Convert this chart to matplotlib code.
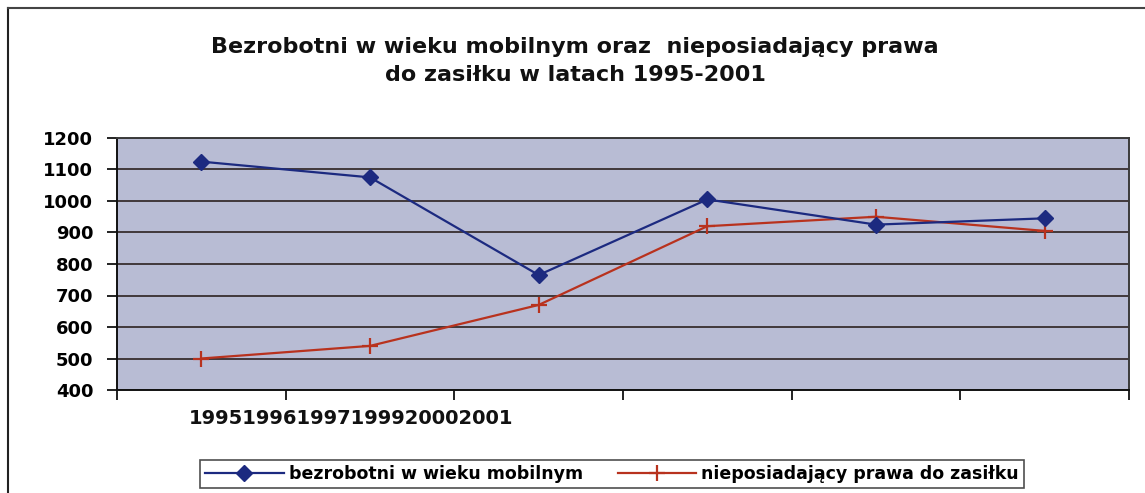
import matplotlib
matplotlib.use("Agg")
import matplotlib.pyplot as plt
from matplotlib.lines import Line2D

# ---- data ----
years = ["1995", "1996", "1997", "1999", "2000", "2001"]
mobile_unemployed = [1125, 1075, 765, 1005, 925, 945]
no_benefit_right = [500, 540, 670, 920, 950, 905]
series_names = ["bezrobotni w wieku mobilnym", "nieposiadający prawa do zasiłku"]
title = "Bezrobotni w wieku mobilnym oraz  nieposiadający prawa\ndo zasiłku w latach 1995-2001"
y_ticks = [400, 500, 600, 700, 800, 900, 1000, 1100, 1200]

W, H = 1145, 493
fig = plt.figure(figsize=(W / 100, H / 100), dpi=100)
fig.patch.set_facecolor("white")

FONT = "DejaVu Sans"

ax = fig.add_axes([117 / W, 1 - 390 / H, (1129 - 117) / W, (390 - 138) / H])
ax.set_facecolor("#b8bcd4")

x = list(range(len(years)))
ax.plot(x, mobile_unemployed, color="#1c2a80", lw=1.6, marker="D",
        markersize=8, markerfacecolor="#1c2a80", markeredgecolor="#1c2a80",
        label=series_names[0], zorder=4)
ax.plot(x, no_benefit_right, color="#b8321e", lw=1.6, marker="+",
        markersize=11, markeredgewidth=1.6, label=series_names[1], zorder=3)

ax.set_ylim(400, 1200)
ax.set_yticks(y_ticks)
ax.set_yticklabels([str(v) for v in y_ticks], fontfamily=FONT,
                   fontweight="bold", fontsize=13)
ax.yaxis.grid(True, color="#40383a", lw=1.4)
ax.set_axisbelow(True)

ax.set_xlim(-0.5, len(years) - 0.5)
ax.set_xticks([i - 0.5 for i in range(len(years) + 1)])
ax.set_xticklabels([])
ax.tick_params(axis="both", direction="out", length=7, width=1.4,
               color="#222222", pad=10)

for s in ax.spines.values():
    s.set_color("#3a3a3a")
    s.set_linewidth(1.4)
ax.spines["left"].set_color("#111111")
ax.spines["bottom"].set_color("#111111")

# the category labels as printed in the source, run together under the axis
ax.text((351 - 117) / (1129 - 117), -28 / (390 - 138), "".join(years),
        transform=ax.transAxes, ha="center", va="center",
        fontfamily=FONT, fontweight="bold", fontsize=14, color="#111111")

# title
fig.text(575 / W, 1 - 61 / H, title, ha="center", va="center",
         fontfamily=FONT, fontweight="bold", fontsize=16, linespacing=1.5,
         color="#111111")

# legend
leg = fig.legend(loc="center", bbox_to_anchor=(612 / W, 1 - 474 / H),
                 ncol=2, frameon=True, fancybox=False, edgecolor="#222222",
                 prop={"family": FONT, "weight": "bold", "size": 12.5},
                 handlelength=4.5, handletextpad=0.3, columnspacing=2.0,
                 borderpad=0.3, borderaxespad=0)
leg.get_frame().set_linewidth(1.2)

# outer chart frame (left and top edges visible in the scan)
fig.add_artist(Line2D([8 / W, 8 / W], [0, 1 - 8 / H], transform=fig.transFigure,
                      color="#222222", lw=1.5))
fig.add_artist(Line2D([8 / W, 1], [1 - 8 / H, 1 - 8 / H], transform=fig.transFigure,
                      color="#444444", lw=1.5))

fig.savefig("out.png", dpi=100)
